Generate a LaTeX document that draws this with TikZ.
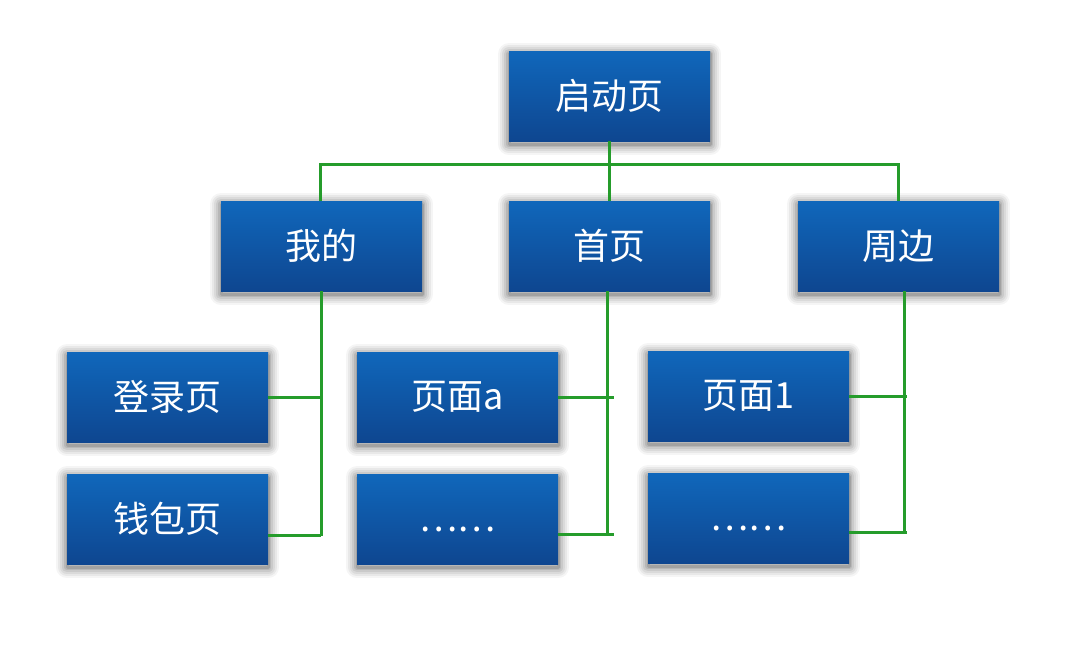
\documentclass[tikz,border=0pt]{standalone}
\usepackage{fontspec}
\newfontfamily\cjk{Noto Sans CJK SC}
\usetikzlibrary{backgrounds}
\definecolor{boxtop}{HTML}{1067BB}
\definecolor{boxbot}{HTML}{0E4690}
\definecolor{linkgreen}{HTML}{259C2B}
\tikzset{
  pagebox/.style={anchor=north west, minimum width=201pt, minimum height=90pt,
    inner sep=0pt, top color=boxtop, bottom color=boxbot, text=white,
    font=\cjk\fontsize{36}{42}\selectfont},
  softshade/.style={draw=black, line join=round},
  conn/.style={draw=linkgreen, line width=3pt}
}
\newcommand{\moredots}{\raisebox{-12pt}[0pt][0pt]{……}}
\begin{document}
\begin{tikzpicture}[x=1pt,y=-1pt]
% top level and first tier
\node[pagebox] (qidong) at (509,51) {启动页};
\node[pagebox] (wode) at (221,201) {我的};
\node[pagebox] (shouye) at (509,201) {首页};
\node[pagebox] (zhoubian) at (798,201) {周边};
% second tier
\node[pagebox] (denglu) at (67,352) {登录页};
\node[pagebox] (qianbao) at (67,474) {钱包页};
\node[pagebox] (yemiana) at (357,352) {页面a};
\node[pagebox] (moremid) at (357,474) {\moredots};
\node[pagebox] (yemian1) at (648,351) {页面1};
\node[pagebox] (moreright) at (648,473) {\moredots};
% white page and soft drop shadows behind the boxes
\begin{pgfonlayer}{background}
\fill[white] (0,0) rectangle (1090,658);
\foreach \n in {qidong,wode,shouye,zhoubian,denglu,qianbao,yemiana,moremid,yemian1,moreright}{
  \foreach \w/\o in {22/0.04, 18/0.05, 14/0.06, 10/0.07, 6/0.09, 3/0.11}{
    \draw[softshade, draw opacity=\o, line width=\w pt]
      ([yshift=-3pt]\n.north west) rectangle ([yshift=-3pt]\n.south east);
  }
}
\end{pgfonlayer}
\useasboundingbox (0,0) rectangle (1090,658);
% top bus
\draw[conn] (qidong.south) -- (shouye.north);
\draw[conn] (wode.north -| 320,0) -- (320,165) -- (898,165) -- (zhoubian.north -| 898,0);
% left branch
\coordinate (lefttop) at (321,291);
\coordinate (leftbot) at (321,535.5);
\draw[conn] (lefttop) -- (leftbot);
\draw[conn] (denglu.east) -- (denglu.east -| lefttop);
\draw[conn] (qianbao.east |- leftbot) -- (leftbot);
% middle branch
\coordinate (midtop) at (607,291);
\coordinate (midbot) at (607,534);
\draw[conn] (midtop) -- (midbot);
\draw[conn] (yemiana.east) -- ++(56,0) coordinate (midend1);
\draw[conn] (moremid.east |- midbot) -- ++(56,0) coordinate (midend2);
% right branch
\coordinate (righttop) at (904,291);
\coordinate (rightbot) at (904,533.5);
\draw[conn] (righttop) -- (rightbot);
\draw[conn] (yemian1.east |- 0,396) -- ++(58,0) coordinate (rightend1);
\draw[conn] (moreright.east |- 0,532) -- ++(58,0) coordinate (rightend2);
\end{tikzpicture}
\end{document}
